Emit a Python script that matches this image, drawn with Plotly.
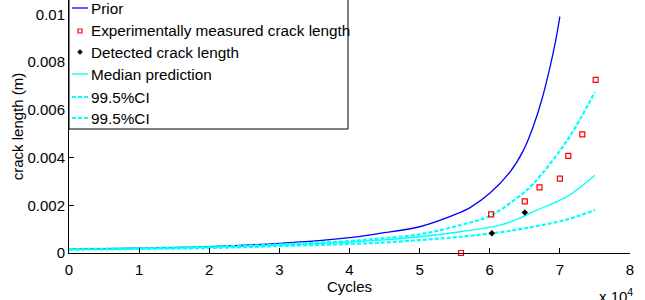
import plotly.graph_objects as go

# ---- data (cycles, crack length in m) ----
prior_x = [0, 10000, 20000, 30000, 40000, 44300, 50000, 55800, 57200, 60000, 62900, 64800, 66200, 67400, 68600, 69400, 70000]
prior_y = [0.00016, 0.0002, 0.00027, 0.0004, 0.00064, 0.00082, 0.0011, 0.0017, 0.0019, 0.0025, 0.0034, 0.0043, 0.0053, 0.0064, 0.0078, 0.0089, 0.0099]

med_x = [0, 10000, 20000, 30000, 40000, 44300, 50000, 55800, 61500, 64300, 66200, 71000, 75000]
med_y = [0.00015, 0.00018, 0.00024, 0.00033, 0.00046, 0.00054, 0.00068, 0.00089, 0.00117, 0.00146, 0.00173, 0.00236, 0.00326]

up_x = [0, 10000, 20000, 30000, 40000, 44300, 50000, 55800, 60000, 64300, 66200, 71000, 75000]
up_y = [0.00016, 0.0002, 0.00026, 0.00036, 0.0005, 0.00061, 0.00078, 0.00117, 0.00155, 0.0024, 0.0029, 0.0047, 0.00675]

lo_x = [0, 10000, 20000, 30000, 40000, 44300, 50000, 55800, 61500, 64300, 66200, 71000, 75000]
lo_y = [0.00014, 0.00017, 0.00021, 0.00029, 0.00038, 0.00043, 0.00054, 0.00068, 0.00087, 0.001, 0.0011, 0.0014, 0.0018]

meas_x = [55900, 60200, 65000, 67100, 70000, 71200, 73200, 75100]
meas_y = [0.0, 0.00162, 0.00216, 0.00275, 0.00312, 0.00407, 0.00497, 0.00725]

det_x = [60300, 65000]
det_y = [0.00083, 0.0017]

x_ticks = [0, 10000, 20000, 30000, 40000, 50000, 60000, 70000, 80000]
x_ticktext = ["0", "1", "2", "3", "4", "5", "6", "7", "8"]
y_ticks = [0, 0.002, 0.004, 0.006, 0.008, 0.01]
y_ticktext = ["0", "0.002", "0.004", "0.006", "0.008", "0.01"]

legend_names = ["Prior", "Experimentally measured crack length", "Detected crack length",
                "Median prediction", "99.5%CI", "99.5%CI"]

BLUE = "#0000FF"
CYAN = "#00FFFF"
RED = "#FF0000"
FONT = "Liberation Sans, Arial, sans-serif"

fig = go.Figure()
fig.add_trace(go.Scatter(x=prior_x, y=prior_y, mode="lines", line=dict(color=BLUE, width=1.3, shape="spline", smoothing=1), name=legend_names[0]))
fig.add_trace(go.Scatter(x=med_x, y=med_y, mode="lines", line=dict(color=CYAN, width=1.3, shape="spline", smoothing=1), name=legend_names[3]))
fig.add_trace(go.Scatter(x=up_x, y=up_y, mode="lines", line=dict(color=CYAN, width=2.2, dash="4px,2px", shape="spline", smoothing=1), name=legend_names[4]))
fig.add_trace(go.Scatter(x=lo_x, y=lo_y, mode="lines", line=dict(color=CYAN, width=2.2, dash="4px,2px", shape="spline", smoothing=1), name=legend_names[5]))
fig.add_trace(go.Scatter(x=meas_x, y=meas_y, mode="markers", cliponaxis=False,
                         marker=dict(symbol="square-open", size=5, color=RED, line=dict(width=1.2)), name=legend_names[1]))
fig.add_trace(go.Scatter(x=det_x, y=det_y, mode="markers",
                         marker=dict(symbol="diamond", size=5, color="black"), name=legend_names[2]))

# ---- manual legend box (pixel helpers) ----
L, R, T, B = 69, 630, 0, 253
def px(xp):
    return (xp - L) / (R - L)
def py(yp):
    return (B - yp) / (B - T)

shapes = [dict(type="rect", xref="paper", yref="paper", x0=px(69), x1=px(348), y0=py(129), y1=py(-10),
               line=dict(color="black", width=1), fillcolor="white", layer="above")]
annotations = []
entry_y = [8, 31, 52, 74, 97, 118]
kinds = ["line_blue", "marker_red", "marker_black", "line_cyan", "dash_cyan", "dash_cyan"]
for name, yy, kind in zip(legend_names, entry_y, kinds):
    if kind == "line_blue":
        shapes.append(dict(type="line", xref="paper", yref="paper", x0=px(72), x1=px(88), y0=py(yy), y1=py(yy),
                           line=dict(color=BLUE, width=1.3), layer="above"))
    elif kind == "line_cyan":
        shapes.append(dict(type="line", xref="paper", yref="paper", x0=px(72), x1=px(88), y0=py(yy), y1=py(yy),
                           line=dict(color=CYAN, width=1.3), layer="above"))
    elif kind == "dash_cyan":
        shapes.append(dict(type="line", xref="paper", yref="paper", x0=px(72), x1=px(88), y0=py(yy), y1=py(yy),
                           line=dict(color=CYAN, width=2.2, dash="4px,2px"), layer="above"))
    elif kind == "marker_red":
        shapes.append(dict(type="rect", xref="paper", yref="paper", x0=px(78), x1=px(82), y0=py(yy + 2), y1=py(yy - 2),
                           line=dict(color=RED, width=1.2), layer="above"))
    elif kind == "marker_black":
        shapes.append(dict(type="path", xref="paper", yref="paper",
                           path=f"M {px(80)} {py(yy-2.5)} L {px(82.5)} {py(yy)} L {px(80)} {py(yy+2.5)} L {px(77.5)} {py(yy)} Z",
                           fillcolor="black", line=dict(color="black", width=0.5), layer="above"))
    annotations.append(dict(xref="paper", yref="paper", x=px(89), y=py(yy), xanchor="left", yanchor="middle",
                            text=name, showarrow=False, font=dict(family=FONT, size=15.3, color="black")))

annotations.append(dict(xref="paper", yref="paper", x=px(597), y=py(284), xanchor="left", yanchor="top",
                        text="x 10<sup>4</sup>", showarrow=False, font=dict(family=FONT, size=15, color="black")))

fig.update_layout(
    width=645, height=300,
    margin=dict(l=69, r=15, t=0, b=47, autoexpand=False),
    paper_bgcolor="white", plot_bgcolor="white",
    showlegend=False,
    font=dict(family=FONT, size=15, color="black"),
    shapes=shapes, annotations=annotations,
)
fig.update_xaxes(range=[0, 80000], tickvals=x_ticks, ticktext=x_ticktext, automargin=False,
                 showline=True, linecolor="black", linewidth=1, ticks="inside", ticklen=5, tickcolor="black",
                 showgrid=False, zeroline=False, mirror=False, ticklabelstandoff=3,
                 title=dict(text="Cycles", standoff=0, font=dict(size=15)), tickfont=dict(size=15))
fig.update_yaxes(range=[0, 0.0106], tickvals=y_ticks, ticktext=y_ticktext, automargin=False,
                 showline=True, linecolor="black", linewidth=1, ticks="inside", ticklen=5, tickcolor="black",
                 showgrid=False, zeroline=False, mirror=False,
                 title=dict(text="crack length (m)", standoff=0, font=dict(size=15)), tickfont=dict(size=15))

fig.write_html("out.html", config={"displayModeBar": False},
               post_script="document.body.style.margin='0';document.body.style.overflow='hidden';")
